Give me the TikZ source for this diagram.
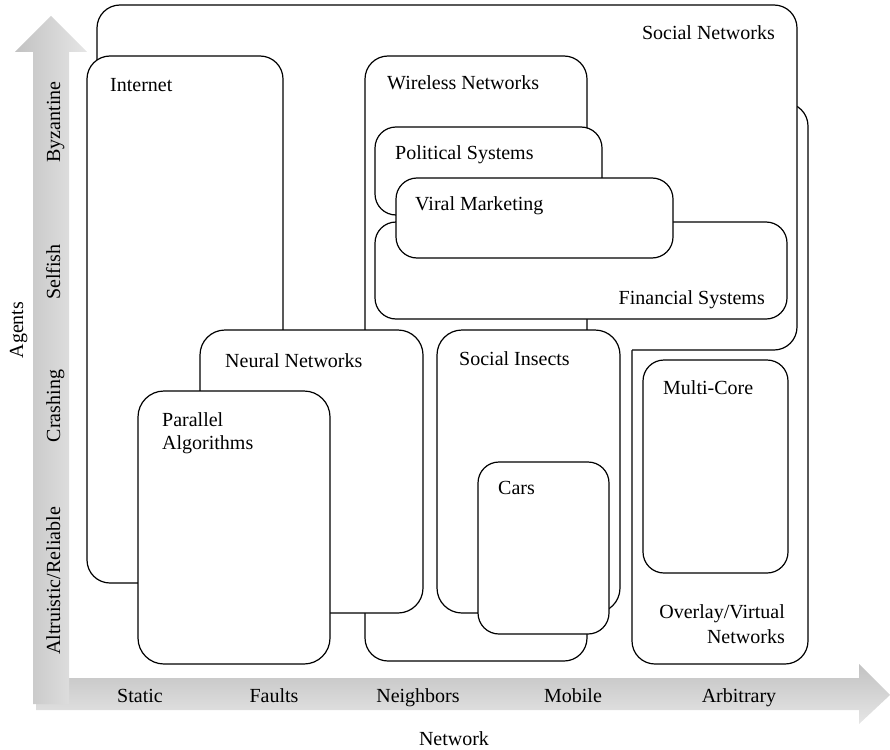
\documentclass[tikz,border=0pt]{standalone}
\usepackage{fontspec}
\setmainfont{Liberation Serif}
\definecolor{arrdark}{RGB}{194,194,194}
\definecolor{arrlight}{RGB}{230,230,230}
\begin{document}
\begin{tikzpicture}[x=1pt,y=-1pt,
  box/.style={draw=black, fill=white, line width=1.2pt, rounded corners=23pt},
  edge/.style={draw=black, line width=1.2pt, rounded corners=23pt},
  lbl/.style={font=\fontsize{20}{23}\selectfont, inner sep=0pt}]
\useasboundingbox (0,0) rectangle (890,749);
% axes
\shade[top color=arrdark, bottom color=arrlight]
  (36,678) -- (859,678) -- (859,664) -- (890,695) -- (859,724) -- (859,710) -- (36,710) -- cycle;
\shade[left color=arrdark, right color=arrlight]
  (33,704) -- (33,52) -- (15,52) -- (51,16) -- (87,52) -- (69,52) -- (69,704) -- cycle;
% boxes
\path[box] (632,103) rectangle (808,664);            % Overlay/Virtual
\fill[white, rounded corners=23pt] (97,5) rectangle (797,350);   % Social Networks
\path[edge] (632,350) -- (797,350) -- (797,5) -- (97,5) -- (97,200);
\path[box] (87,56) rectangle (283,583);              % Internet
\path[box] (365,56) rectangle (587,661);             % Wireless
\path[box, rounded corners=21pt] (375,127) rectangle (602,215);  % Political
\path[box, rounded corners=21pt] (375,222) rectangle (787,319);  % Financial
\path[box, rounded corners=21pt] (396,178) rectangle (673,258);  % Viral
\path[box, rounded corners=25pt] (200,330) rectangle (423,613);  % Neural
\path[box, rounded corners=26pt] (138,391) rectangle (330,664);  % Parallel
\path[box, rounded corners=25pt] (437,330) rectangle (620,613);  % Social Insects
\path[box, rounded corners=21pt] (478,462) rectangle (609,634);  % Cars
\path[box, rounded corners=21pt] (643,360) rectangle (788,573);  % Multi-Core
% box labels
\node[lbl, anchor=base east] (tsn) at (775,40) {Social Networks};
\node[lbl, anchor=base west] (tin) at (110,92) {Internet};
\node[lbl, anchor=base west] (twn) at (387,90) {Wireless Networks};
\node[lbl, anchor=base west] (tps) at (395,159) {Political Systems};
\node[lbl, anchor=base west] (tvm) at (415,210) {Viral Marketing};
\node[lbl, anchor=base east] (tfs) at (765,304) {Financial Systems};
\node[lbl, anchor=base west] (tnn) at (225,367) {Neural Networks};
\node[lbl, anchor=base west] (tsi) at (459,365) {Social Insects};
\node[lbl, anchor=base west] (tmc) at (663,394) {Multi-Core};
\node[lbl, anchor=base west] (tpa1) at (162,426) {Parallel};
\node[lbl, anchor=base west] (tpa2) at (162,449) {Algorithms};
\node[lbl, anchor=base west] (tca) at (498,494) {Cars};
\node[lbl, anchor=base east] (tov1) at (785,618) {Overlay/Virtual};
\node[lbl, anchor=base east] (tov2) at (785,643) {Networks};
% axis labels
\node[lbl, anchor=base] (xs) at (140,702) {Static};
\node[lbl, anchor=base] (xf) at (274,702) {Faults};
\node[lbl, anchor=base] (xn) at (418,702) {Neighbors};
\node[lbl, anchor=base] (xm) at (573,702) {Mobile};
\node[lbl, anchor=base] (xa) at (739,702) {Arbitrary};
\node[lbl, anchor=base] (xt) at (454,745) {Network};
\node[lbl, anchor=base, rotate=90] (yb) at (60,122) {Byzantine};
\node[lbl, anchor=base, rotate=90] (ys) at (60,272) {Selfish};
\node[lbl, anchor=base, rotate=90] (yc) at (60,406) {Crashing};
\node[lbl, anchor=base, rotate=90] (ya) at (60,581) {Altruistic/Reliable};
\node[lbl, anchor=base, rotate=90] (yt) at (23,330) {Agents};
\end{tikzpicture}
\end{document}
